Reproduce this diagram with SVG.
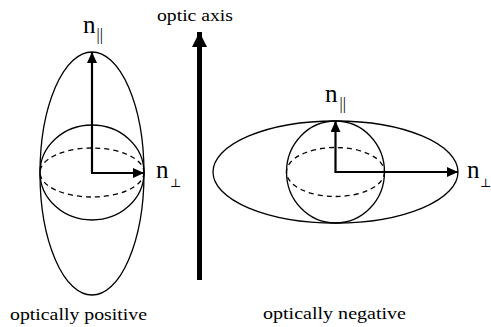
<svg xmlns="http://www.w3.org/2000/svg" width="491" height="327" viewBox="0 0 491 327">
<style>
.shape{fill:none;stroke:#000;stroke-width:1.3}
.dash{fill:none;stroke:#000;stroke-width:1.3;stroke-dasharray:5 4}
.vec{fill:none;stroke:#000;stroke-width:2.2}
.lbl{font-family:"Liberation Serif","Times New Roman",serif;fill:#000}
.n{font-size:25px}
.par{font-size:16px}
.perp{font-size:12px;font-family:"DejaVu Serif","Liberation Serif",serif}
.cap{font-size:17px}
</style>
<defs>
<marker id="ah" markerUnits="userSpaceOnUse" markerWidth="12" markerHeight="10" refX="11" refY="5" orient="auto">
<path d="M0,0 L11,5 L0,10 Z" fill="#000"/>
</marker>
<marker id="ahBig" markerUnits="userSpaceOnUse" markerWidth="16" markerHeight="16" refX="15" refY="7.5" orient="auto">
<path d="M0,0 L15,7.5 L0,15 Z" fill="#000"/>
</marker>
</defs>
<g id="positive">
<ellipse class="shape" cx="92" cy="173.5" rx="52" ry="121.5"/>
<ellipse class="shape" cx="92" cy="172.5" rx="52" ry="47.5"/>
<ellipse class="dash" cx="92" cy="172.5" rx="52" ry="24.5"/>
<text class="lbl cap" x="10" y="320" textLength="137" lengthAdjust="spacingAndGlyphs">optically positive</text>
</g>
<g id="negative">
<ellipse class="shape" cx="335.5" cy="172" rx="122.5" ry="51"/>
<ellipse class="shape" cx="335.5" cy="172" rx="49" ry="51"/>
<ellipse class="dash" cx="335.5" cy="172" rx="49" ry="24.5"/>
<text class="lbl cap" x="263" y="319" textLength="143" lengthAdjust="spacingAndGlyphs">optically negative</text>
</g>
<g id="optic-axis">
<text class="lbl cap" x="157" y="21" textLength="76" lengthAdjust="spacingAndGlyphs">optic axis</text>
</g>
<g id="labels">
<text class="lbl n" x="83" y="33">n</text>
<text class="lbl par" x="96.5" y="40">||</text>
<text class="lbl n" x="156" y="178">n</text>
<text class="lbl perp" x="170" y="187">⊥</text>
<text class="lbl n" x="325" y="102">n</text>
<text class="lbl par" x="339.5" y="109">||</text>
<text class="lbl n" x="467" y="178">n</text>
<text class="lbl perp" x="480" y="187">⊥</text>
</g>
<g id="connectors">
<line class="vec" x1="92" y1="173" x2="92" y2="52" marker-end="url(#ah)"/>
<line class="vec" x1="91" y1="173" x2="144" y2="173" marker-end="url(#ah)"/>
<line class="vec" x1="335.5" y1="172" x2="335.5" y2="121" marker-end="url(#ah)"/>
<line class="vec" x1="334.5" y1="172" x2="458" y2="172" marker-end="url(#ah)"/>
<line x1="199.5" y1="280" x2="199.5" y2="32" stroke="#000" stroke-width="5" marker-end="url(#ahBig)"/>
</g>
</svg>
